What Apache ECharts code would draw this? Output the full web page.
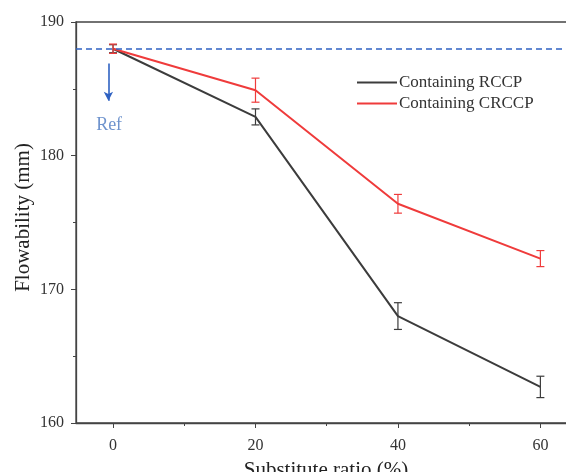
<!DOCTYPE html>
<html>
<head>
<meta charset="utf-8">
<script src="https://cdn.jsdelivr.net/npm/echarts@6/dist/echarts.min.js"></script>
<style>
  html, body { margin: 0; padding: 0; background: #fff; }
  #chart { width: 566px; height: 472px; }
</style>
</head>
<body>
<div id="chart"></div>
<script>
// data
const ratios = [0, 20, 40, 60];
const rccp = [188, 182.9, 168, 162.7];
const rccpErr = [0.3, 0.6, 1.0, 0.8];
const crccp = [188, 184.9, 176.4, 172.3];
const crccpErr = [0.35, 0.9, 0.7, 0.6];
const refValue = 188;
const xLabelTicks = [0, 20, 40, 60];
const xMinorTicks = [10, 30, 50];
const refArrow = [[-0.65, 186.9], [-0.65, 184.1]];
const refLabelPos = [-0.55, 182.3];

const FONT = 'Liberation Serif';
const BLACK = '#3c3c3c';
const RED = '#ef3b3b';
const BLUE = '#2f62c2';

const chart = echarts.init(document.getElementById('chart'));

function pairs(ys) {
    return ratios.map((x, i) => [x, ys[i]]);
}
function errData(ys, errs) {
    return ratios.map((x, i) => [x, ys[i] - errs[i], ys[i] + errs[i]]);
}
function errSeries(name, ys, errs, color) {
    return {
        type: 'custom',
        name: name + ' err',
        silent: true,
        z: 4,
        data: errData(ys, errs),
        renderItem: function (params, api) {
            const lo = api.coord([api.value(0), api.value(1)]);
            const hi = api.coord([api.value(0), api.value(2)]);
            const w = 4;
            const style = { stroke: color, lineWidth: 1.2 };
            return {
                type: 'group',
                children: [
                    { type: 'line', shape: { x1: lo[0], y1: lo[1], x2: hi[0], y2: hi[1] }, style: style },
                    { type: 'line', shape: { x1: lo[0] - w, y1: lo[1], x2: lo[0] + w, y2: lo[1] }, style: style },
                    { type: 'line', shape: { x1: hi[0] - w, y1: hi[1], x2: hi[0] + w, y2: hi[1] }, style: style }
                ]
            };
        }
    };
}

const axisText = { color: '#333', fontFamily: FONT, fontSize: 16 };

const option = {
    animation: false,
    grid: {
        left: 76, right: -10, top: 22, bottom: 49,
        show: true, borderColor: '#444', borderWidth: 1.3,
        containLabel: false, outerBoundsMode: 'none'
    },
    legend: {
        orient: 'vertical',
        left: 357,
        top: 74,
        padding: 0,
        itemWidth: 40,
        itemHeight: 2,
        itemGap: 4,
        icon: 'rect',
        data: ['Containing RCCP', 'Containing CRCCP'],
        textStyle: { color: '#333', fontFamily: FONT, fontSize: 17, lineHeight: 17, padding: [0, 0, 0, -3] }
    },
    xAxis: [{
        type: 'value',
        min: -5.2,
        max: 65,
        name: 'Substitute ratio (%)',
        nameLocation: 'middle',
        nameGap: 37,
        nameTextStyle: { color: '#222', fontFamily: FONT, fontSize: 21 },
        axisLine: { show: true, onZero: false, lineStyle: { color: '#444', width: 1.3 } },
        axisTick: { show: true, length: 5, customValues: xLabelTicks, lineStyle: { color: '#444' } },
        axisLabel: Object.assign({ customValues: xLabelTicks, margin: 15 }, axisText),
        splitLine: { show: false }
    }, {
        type: 'value',
        position: 'bottom',
        min: -5.2,
        max: 65,
        axisLine: { show: false, onZero: false },
        axisTick: { show: true, length: 3, customValues: xMinorTicks, lineStyle: { color: '#444' } },
        axisLabel: { show: false },
        splitLine: { show: false }
    }],
    yAxis: {
        type: 'value',
        min: 160,
        max: 190,
        interval: 10,
        name: 'Flowability (mm)',
        nameLocation: 'middle',
        nameGap: 42,
        nameMoveOverlap: false,
        nameTextStyle: { color: '#222', fontFamily: FONT, fontSize: 21, padding: [0, 0, 0, 10] },
        axisLine: { show: true, onZero: false, lineStyle: { color: '#444', width: 1.3 } },
        axisTick: { show: true, length: 5, lineStyle: { color: '#444' } },
        minorTick: { show: true, splitNumber: 2, length: 3, lineStyle: { color: '#444' } },
        axisLabel: Object.assign({ margin: 12 }, axisText),
        splitLine: { show: false }
    },
    series: [
        {
            name: 'Containing RCCP',
            type: 'line',
            data: pairs(rccp),
            symbol: 'none',
            color: BLACK,
            lineStyle: { color: BLACK, width: 2 },
            z: 3
        },
        {
            name: 'Containing CRCCP',
            type: 'line',
            data: pairs(crccp),
            symbol: 'none',
            color: RED,
            lineStyle: { color: RED, width: 2 },
            z: 3,
            markLine: {
                silent: true,
                symbol: 'none',
                label: { show: false },
                lineStyle: { color: BLUE, type: [6, 4], width: 1.6 },
                data: [
                    { yAxis: refValue },
                    [
                        { coord: refArrow[0], symbol: 'none', lineStyle: { type: 'solid', width: 1.6, color: BLUE } },
                        { coord: refArrow[1], symbol: 'arrow', symbolSize: [7, 9], lineStyle: { type: 'solid', width: 1.6, color: BLUE } }
                    ]
                ]
            }
        },
        errSeries('Containing RCCP', rccp, rccpErr, BLACK),
        errSeries('Containing CRCCP', crccp, crccpErr, RED),
        {
            type: 'scatter',
            silent: true,
            symbolSize: 0,
            data: [refLabelPos],
            label: {
                show: true,
                position: 'inside',
                formatter: 'Ref',
                color: '#4a78c0',
                fontFamily: FONT,
                fontSize: 18
            }
        }
    ]
};

chart.setOption(option);
</script>
</body>
</html>
